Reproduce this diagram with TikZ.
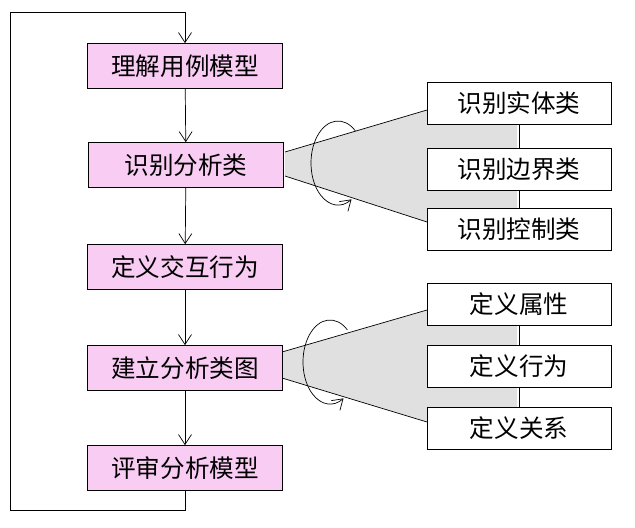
\documentclass[tikz,border=0pt]{standalone}
\usepackage{fontspec}
\usetikzlibrary{arrows.meta}
\setmainfont{Noto Sans CJK SC}
\definecolor{pinkf}{HTML}{F9CCF3}
\begin{document}
\begin{tikzpicture}[x=0.02cm,y=-0.02cm,
 lbox/.style={draw,fill=pinkf,minimum width=3.9cm,minimum height=0.9cm,inner sep=0,font=\fontsize{14pt}{16pt}\selectfont},
 rbox/.style={draw,fill=white,minimum width=3.68cm,minimum height=0.84cm,inner sep=0,font=\fontsize{14pt}{16pt}\selectfont},
 ar/.style={-{Straight Barb[length=2mm,width=2.6mm]}},
 gray/.style={fill=black!12}]
\useasboundingbox (0,0) rectangle (635,527);
\fill[gray] (285,152) -- (427,110) -- (427,124) -- (517,124) -- (517,208) -- (427,208) -- (427,222) -- (285,176) -- cycle;
\fill[gray] (282,352) -- (427,310) -- (427,325) -- (517,325) -- (517,407) -- (427,407) -- (427,422) -- (282,378) -- cycle;
\draw (285,152) -- (427,110) (285,176) -- (427,222);
\draw (282,352) -- (427,310) (282,378) -- (427,422);
\node[lbox] (a) at (185,66) {理解用例模型};
\node[lbox] (b) at (186,165) {识别分析类};
\node[lbox] (c) at (185,267) {定义交互行为};
\node[lbox] (d) at (185,368) {建立分析类图};
\node[lbox] (e) at (185,468) {评审分析模型};
\foreach \u/\v in {a/b,b/c,c/d,d/e} \draw[ar] (\u) -- (\v);
\coordinate (p1) at (185,510); \coordinate (p2) at (10,510);
\coordinate (p3) at (10,12); \coordinate (p4) at (185,12);
\draw[ar] (e) -- (p1) -- (p2) -- (p3) -- (p4) -- (a);
\node[rbox] (r1) at (519,103) {识别实体类};
\node[rbox] (r2) at (519,169) {识别边界类};
\node[rbox] (r3) at (519,229) {识别控制类};
\node[rbox] (r4) at (519,304) {定义属性};
\node[rbox] (r5) at (519,366) {定义行为};
\node[rbox] (r6) at (519,428) {定义关系};
\draw (r1) -- (r2) (r2) -- (r3) (r4) -- (r5) (r5) -- (r6);
\draw[ar] (338,163) ++(-50:27 and 42) arc[start angle=-50,end angle=-300,x radius=27,y radius=42];
\draw[ar] (330,362) ++(-50:27 and 42) arc[start angle=-50,end angle=-300,x radius=27,y radius=42];
\end{tikzpicture}
\end{document}
